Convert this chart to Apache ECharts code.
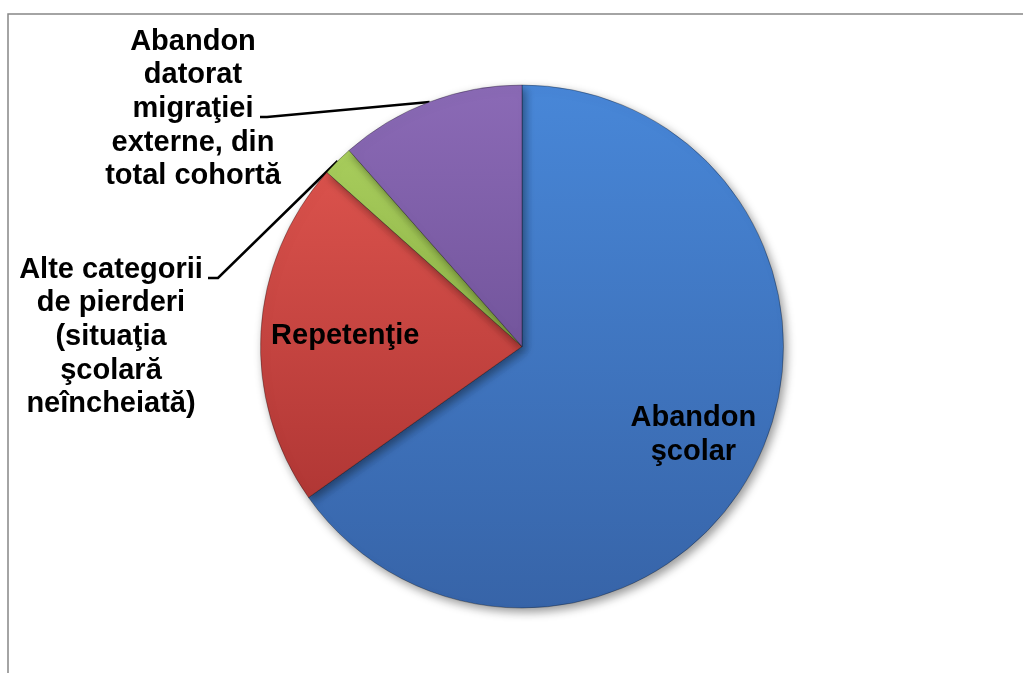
<!DOCTYPE html>
<html>
<head>
<meta charset="utf-8">
<title>Pierderi de cohortă</title>
<script src="https://cdn.jsdelivr.net/npm/echarts@6/dist/echarts.min.js"></script>
<style>
	html, body {
		margin: 0;
		padding: 0;
		background: #fff;
	}
	#myChart {
		width: 1023px;
		height: 673px;
	}
</style>
</head>
<body>
<div id="myChart"></div>
<script>
// date (procente, aproximative)
const categories = [
	'Abandon şcolar',
	'Repetenţie',
	'Alte categorii de pierderi (situaţia şcolară neîncheiată)',
	'Abandon datorat migraţiei externe, din total cohortă'
]
const values = [65.2, 21.4, 1.9, 11.5]
const labelTexts = [
	'Abandon\nşcolar',
	'Repetenţie',
	'Alte categorii\nde pierderi\n(situaţia\nşcolară\nneîncheiată)',
	'Abandon\ndatorat\nmigraţiei\nexterne, din\ntotal cohortă'
]
const labelInside = [true, true, false, false]

// culori (sus -> jos) pentru fiecare felie
const sliceColors = [
	['#4887d8', '#3764a8'],
	['#da524c', '#b13735'],
	['#a8cd5c', '#8db247'],
	['#8b6ab6', '#73559c']
]

const pieCenter = [522, 346.5]
const pieRadius = 261.5

// pozitia etichetelor (dupa Excel)
const insideLabelRadius = { 0: 0.738, 1: 0.677 }
const outsideLabels = {
	2: { x: 111, y: 337, line: [[218, 278], [208, 278]] },
	3: { x: 193, y: 109, line: [[267, 117], [260, 117]] }
}

let myChart = echarts.init(document.getElementById('myChart'))

let data = categories.map((name, i) => ({
	name: name,
	value: values[i],
	label: {
		formatter: labelTexts[i],
		position: labelInside[i] ? 'inside' : 'outside'
	},
	labelLine: { show: !labelInside[i] },
	itemStyle: {
		color: new echarts.graphic.LinearGradient(0, 0, 0, 1, [
			{ offset: 0, color: sliceColors[i][0] },
			{ offset: 1, color: sliceColors[i][1] }
		])
	}
}))

let option = {
	animation: false,
	backgroundColor: '#fff',
	graphic: [{
		type: 'rect',
		silent: true,
		shape: { x: 8, y: 14, width: 1200, height: 900 },
		style: { fill: 'none', stroke: '#878787', lineWidth: 1.5 }
	}],
	series: [{
		type: 'pie',
		center: pieCenter,
		radius: pieRadius,
		startAngle: 90,
		clockwise: true,
		avoidLabelOverlap: false,
		data: data,
		itemStyle: {
			borderColor: 'rgba(0,0,0,0.3)',
			borderWidth: 1,
			shadowBlur: 10,
			shadowOffsetX: 3,
			shadowOffsetY: 4,
			shadowColor: 'rgba(0,0,0,0.4)'
		},
		label: {
			color: '#000',
			fontFamily: '"Liberation Sans", Arial, sans-serif',
			fontWeight: 'bold',
			fontSize: 29,
			lineHeight: 33.6,
			align: 'center'
		},
		labelLine: {
			length: 10,
			length2: 10,
			lineStyle: { color: '#000', width: 2.5 }
		},
		emphasis: { disabled: true },
		labelLayout: function (params) {
			let i = params.dataIndex
			if (insideLabelRadius[i] != null) {
				let r = params.labelRect
				let cx = r.x + r.width / 2
				let cy = r.y + r.height / 2
				let vx = cx - pieCenter[0]
				let vy = cy - pieCenter[1]
				let d = Math.sqrt(vx * vx + vy * vy)
				let k = insideLabelRadius[i] * pieRadius / d
				return {
					x: pieCenter[0] + vx * k,
					y: pieCenter[1] + vy * k,
					align: 'center',
					verticalAlign: 'middle'
				}
			}
			let o = outsideLabels[i]
			if (o) {
				let start = params.labelLinePoints ? params.labelLinePoints[0] : null
				let res = {
					x: o.x,
					y: o.y,
					align: 'center',
					verticalAlign: 'middle'
				}
				if (start) {
					res.labelLinePoints = [start].concat(o.line)
				}
				return res
			}
		}
	}]
}
myChart.setOption(option)
</script>
</body>
</html>
